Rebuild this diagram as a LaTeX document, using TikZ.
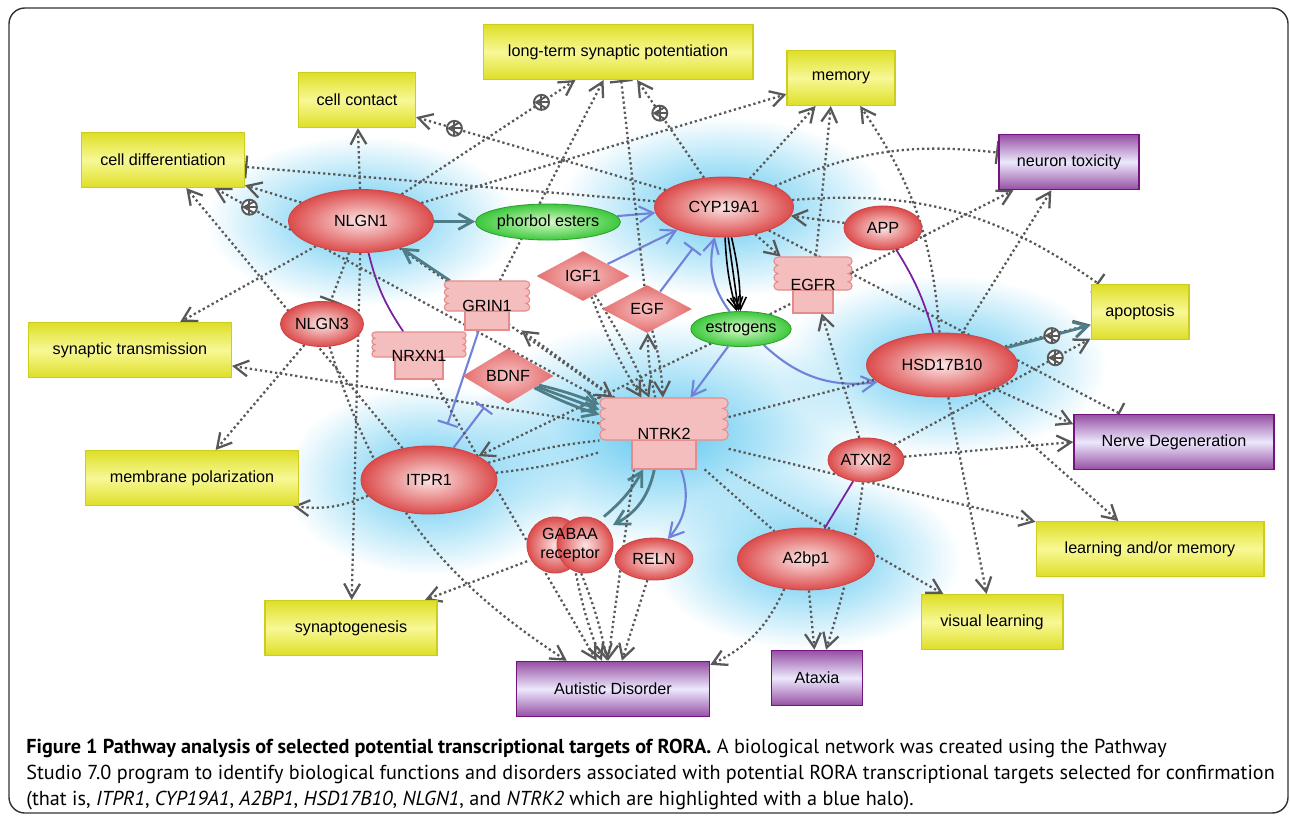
\documentclass[tikz,border=0pt]{standalone}
\usepackage{fontspec}
\setmainfont{PT Sans}
\newfontfamily\labelfont{Liberation Sans}
\usepackage{tikz}
\usetikzlibrary{arrows.meta,shapes.geometric,fadings,decorations.markings,calc}

\definecolor{edgegray}{RGB}{88,88,88}
\definecolor{tealc}{RGB}{78,125,136}
\definecolor{bluec}{RGB}{113,130,218}
\definecolor{purplec}{RGB}{123,31,162}
\definecolor{funcdark}{RGB}{222,222,40}
\definecolor{funclight}{RGB}{248,248,150}
\definecolor{funcdraw}{RGB}{205,205,30}
\definecolor{disdark}{RGB}{150,80,165}
\definecolor{dislight}{RGB}{236,232,252}
\definecolor{disdraw}{RGB}{115,20,125}
\definecolor{protout}{RGB}{220,75,75}
\definecolor{protin}{RGB}{252,228,228}
\definecolor{protdraw}{RGB}{205,70,70}
\definecolor{greenout}{RGB}{60,200,60}
\definecolor{greenin}{RGB}{215,250,200}
\definecolor{ligout}{RGB}{228,110,110}
\definecolor{ligin}{RGB}{248,195,195}
\definecolor{recfill}{RGB}{245,190,190}
\definecolor{recdraw}{RGB}{228,140,140}
\definecolor{halocol}{RGB}{95,200,240}

\newcommand\nodefont{\labelfont\fontsize{9.2}{10.5}\selectfont}

\pgfdeclarelayer{halolayer}
\pgfdeclarelayer{edgelayer}
\pgfsetlayers{halolayer,edgelayer,main}

\tikzfading[name=halofade, inner color=transparent!0, outer color=transparent!100]

\tikzset{
  func/.style={rectangle, draw=funcdraw, line width=0.6pt, top color=funcdark,
    bottom color=funcdark, middle color=funclight, minimum height=1.1cm, font=\nodefont},
  disease/.style={rectangle, draw=disdraw, line width=0.9pt, top color=disdark,
    bottom color=disdark, middle color=dislight, minimum height=1.1cm, font=\nodefont},
  protein/.style={ellipse, draw=protdraw, line width=0.5pt, inner sep=0pt,
    inner color=protin, outer color=protout, font=\nodefont},
  smallmol/.style={ellipse, draw=greenout!80!black, line width=0.5pt, inner sep=0pt,
    inner color=greenin, outer color=greenout, font=\nodefont},
  ligand/.style={diamond, inner sep=0pt, inner color=ligin, outer color=ligout, font=\nodefont},
  receptor/.style={fill=recfill, draw=recdraw, line width=0.6pt},
  halo/.style={fill=halocol, path fading=halofade},
  dots/.style={draw=edgegray, line width=1.3pt, dash pattern=on 1.3pt off 1.6pt},
  rel/.style={dots, -{Straight Barb[length=8pt,width=9pt]}},
  inhib/.style={dots, -{Bar[width=13pt]}},
  tealrel/.style={draw=tealc, line width=1.6pt, -{Straight Barb[length=8pt,width=9pt]}},
  bluerel/.style={draw=bluec, line width=1.2pt, -{Straight Barb[length=8pt,width=9pt]}},
  blueinh/.style={draw=bluec, line width=1.2pt, -{Bar[width=12pt]}},
  bind/.style={draw=purplec, line width=1pt},
  blackrel/.style={draw=black, line width=0.9pt, -{Straight Barb[length=7pt,width=7pt]}},
  oplus/.style={circle, solid, draw=edgegray, fill=white, line width=1.1pt, inner sep=0pt,
    minimum size=0.3cm, path picture={\draw[edgegray, line width=1.1pt]
      (path picture bounding box.north) -- (path picture bounding box.south)
      (path picture bounding box.east) -- (path picture bounding box.west);}},
  withplus/.style={postaction={decorate, decoration={markings,
      mark=at position -0.8cm with {\node[oplus] {};}}}},
  captext/.style={font=\fontsize{11.5}{13}\selectfont, inner sep=0pt, anchor=base west},
  outerframe/.style={draw=black!80, line width=0.8pt, rounded corners=9pt}
}

\begin{document}
\begin{tikzpicture}[x=0.02cm, y=0.02cm]

\newcommand\DrawReceptor[8]{% name, x, top y, head half width, stem half width, head height, stem height, label
  \pgfmathsetmacro\bump{#6/8}
  \draw[receptor] (#2-#5,-#3-#6) rectangle (#2+#5,-#3-#6-#7);
  \draw[receptor] (#2-#4,-#3)
    arc[start angle=90, end angle=270, radius=\bump*0.02cm]
    arc[start angle=90, end angle=270, radius=\bump*0.02cm]
    arc[start angle=90, end angle=270, radius=\bump*0.02cm]
    arc[start angle=90, end angle=270, radius=\bump*0.02cm]
    -- (#2+#4,-#3-#6)
    arc[start angle=-90, end angle=90, radius=\bump*0.02cm]
    arc[start angle=-90, end angle=90, radius=\bump*0.02cm]
    arc[start angle=-90, end angle=90, radius=\bump*0.02cm]
    arc[start angle=-90, end angle=90, radius=\bump*0.02cm]
    -- cycle;
  \node[font=\nodefont, inner sep=0pt, minimum width={(2*#4+2*\bump)*0.02cm},
    minimum height={(#6+#7)*0.02cm}] (#1) at (#2,-#3-#6/2-#7/2) {#8};
}

\useasboundingbox (0,0) rectangle (1290,-816);
\draw[outerframe] (9,-8) rectangle (1288,-813);

% functions (yellow) and diseases (purple)
\node[func, minimum width=5.4cm] (ltp) at (618,-52) {long-term synaptic potentiation};
\node[func, minimum width=2.16cm] (memory) at (841,-78) {memory};
\node[func, minimum width=2.34cm] (contact) at (357,-100) {cell contact};
\node[func, minimum width=3.26cm] (differ) at (163,-160) {cell differentiation};
\node[func, minimum width=4.06cm] (transm) at (130,-350) {synaptic transmission};
\node[func, minimum width=4.26cm] (polar) at (192,-478) {membrane polarization};
\node[func, minimum width=3.44cm] (synapto) at (351,-628) {synaptogenesis};
\node[func, minimum width=1.96cm] (apopt) at (1140,-312) {apoptosis};
\node[func, minimum width=4.56cm] (learnmem) at (1150,-549) {learning and/or memory};
\node[func, minimum width=2.84cm] (visual) at (992,-622) {visual learning};
\node[disease, minimum width=2.8cm] (neurotox) at (1069,-162) {neuron toxicity};
\node[disease, minimum width=4cm] (nervedeg) at (1174,-442) {Nerve Degeneration};
\node[disease, minimum width=3.86cm] (autism) at (613,-689) {Autistic Disorder};
\node[disease, minimum width=1.82cm] (ataxia) at (817,-678) {Ataxia};

% proteins and small molecules
\node[protein, minimum width=2.9cm, minimum height=1.26cm] (nlgn1) at (361,-221) {NLGN1};
\node[protein, minimum width=2.78cm, minimum height=1.2cm] (cyp) at (724,-207) {CYP19A1};
\node[protein, minimum width=3.02cm, minimum height=1.28cm] (hsd) at (942,-365) {HSD17B10};
\node[protein, minimum width=2.72cm, minimum height=1.36cm] (itpr1) at (429,-480) {ITPR1};
\node[protein, minimum width=2.74cm, minimum height=1.24cm] (a2bp1) at (806,-559) {A2bp1};
\node[protein, minimum width=1.66cm, minimum height=0.9cm] (nlgn3) at (322,-324) {NLGN3};
\node[protein, minimum width=1.56cm, minimum height=0.88cm] (app) at (883,-228) {APP};
\node[protein, minimum width=1.52cm, minimum height=0.88cm] (atxn2) at (866,-460) {ATXN2};
\node[protein, minimum width=1.56cm, minimum height=0.84cm] (reln) at (654,-559) {RELN};
\node[smallmol, minimum width=2.66cm, minimum height=0.72cm] (phorbol) at (548,-222) {phorbol esters};
\node[smallmol, minimum width=1.88cm, minimum height=0.7cm] (estro) at (741,-329) {estrogens};
\node[ligand, minimum width=1.86cm, minimum height=1cm] (igf1) at (583,-276) {IGF1};
\node[ligand, minimum width=1.8cm, minimum height=0.96cm] (egf) at (647,-309) {EGF};
\node[ligand, minimum width=1.82cm, minimum height=0.92cm] (bdnf) at (508,-376) {BDNF};
\node[protein, circle, minimum size=1.12cm] (gabaL) at (555,-545) {};
\node[protein, circle, minimum size=1.12cm] (gabaR) at (585,-545) {};
\node[font=\nodefont, align=center, inner sep=0pt, minimum width=1.7cm,
  minimum height=1.12cm] (gaba) at (570,-545) {GABAA\\receptor};

% receptors
\DrawReceptor{grin1}{487}{281}{39}{22}{30}{19}{GRIN1}
\DrawReceptor{nrxn1}{419}{332}{44}{24}{25}{22}{NRXN1}
\DrawReceptor{egfr}{813}{257}{35}{20}{33}{23}{EGFR}
\DrawReceptor{ntrk2}{664}{398}{59}{32}{42}{29}{NTRK2}

% blue halos of the selected targets
\begin{pgfonlayer}{halolayer}
\fill[halo] (nlgn1.center) ellipse [x radius=3.1cm, y radius=1.7cm];
\fill[halo] (cyp.center) ellipse [x radius=3.3cm, y radius=1.8cm];
\fill[halo] (hsd.center) ellipse [x radius=3.3cm, y radius=1.8cm];
\fill[halo] (ntrk2.center) ellipse [x radius=4cm, y radius=2.3cm];
\fill[halo] (itpr1.center) ellipse [x radius=2.9cm, y radius=1.9cm];
\fill[halo] (a2bp1.center) ellipse [x radius=3.1cm, y radius=1.8cm];
\end{pgfonlayer}

\begin{pgfonlayer}{edgelayer}
% NLGN1
\draw[rel] (nlgn1) -- (contact);
\draw[rel] (nlgn1) -- (differ);
\draw[rel] (nlgn1) -- (transm);
\draw[rel] (nlgn1) -- (synapto);
\draw[rel, withplus] (nlgn1) -- (ltp);
\draw[rel] (nlgn1) -- (memory);
\draw[rel] (nlgn1) -- (ntrk2);
\draw[inhib] (nlgn1) -- (nlgn3);
\draw[bind] (nlgn1) to[bend right=10] (nrxn1);
\draw[tealrel] (grin1) -- (nlgn1);
\draw[tealrel] (nlgn1) -- (phorbol);
% CYP19A1 and estrogens
\draw[bluerel] (phorbol) -- (cyp);
\draw[bluerel] (igf1) -- (cyp);
\draw[blueinh, shorten >=0.3cm] (egf) -- (cyp);
\draw[bluerel] (estro) to[bend left=25] (cyp);
\draw[blackrel] (cyp) to[bend right=6] (estro);
\draw[blackrel] (cyp) -- (estro);
\draw[blackrel] (cyp) to[bend left=6] (estro);
\draw[bluerel] (estro) to[bend right=25] (hsd);
\draw[bluerel] (estro) -- (ntrk2);
\draw[rel, withplus] (cyp) -- (ltp);
\draw[rel, withplus] (cyp) -- (contact);
\draw[inhib] (cyp) -- (differ);
\draw[rel] (cyp) -- (memory);
\draw[inhib] (cyp) to[bend left=15] (neurotox);
\draw[inhib] (cyp) to[bend left=20] (apopt);
\draw[inhib] (cyp) -- (nervedeg);
\draw[rel] (cyp) -- (egfr);
\draw[rel] (app) -- (cyp);
\draw[rel] (estro) -- (neurotox);
\draw[rel] (estro) -- (itpr1);
% NTRK2
\draw[tealrel] (bdnf) to[bend left=4] (ntrk2);
\draw[tealrel] (bdnf) -- (ntrk2);
\draw[tealrel] (bdnf) to[bend right=4] (ntrk2);
\draw[tealrel] (gaba) to[bend right=10] (ntrk2);
\draw[tealrel] (ntrk2) to[bend left=25] (gaba);
\draw[bluerel] (ntrk2) to[bend left=30] (reln);
\draw[rel] (igf1) to[bend right=5] (ntrk2);
\draw[rel] (igf1) to[bend left=5] (ntrk2);
\draw[rel] (ntrk2) to[bend left=6] (egf);
\draw[rel] (egf) to[bend left=6] (ntrk2);
\draw[rel] (ntrk2) -- (grin1);
\draw[dots] (itpr1) to[bend left=5] (ntrk2);
\draw[dots] (itpr1) to[bend right=5] (ntrk2);
\draw[rel, withplus] (ntrk2) -- (differ);
\draw[rel] (ntrk2) -- (transm);
\draw[rel] (ntrk2) -- (apopt);
\draw[rel] (ntrk2) -- (learnmem);
\draw[rel] (ntrk2) -- (visual);
\draw[dots] (ntrk2) -- (a2bp1);
\draw[rel] ([xshift=-0.6cm]ntrk2.south) -- ([xshift=-0.1cm]autism.north);
% ITPR1, GRIN1, NLGN3, GABAA
\draw[blueinh, shorten >=0.45cm] (grin1) -- (itpr1);
\draw[blueinh, shorten >=0.3cm] (itpr1) -- (bdnf);
\draw[rel] (itpr1) -- (differ);
\draw[rel] (itpr1) to[bend left=15] (polar);
\draw[rel] (nlgn3) -- (polar);
\draw[rel] (grin1) -- (ltp);
\draw[inhib] (egf) -- (ltp);
\draw[rel] (egfr) -- (memory.250);
\draw[rel] (gaba) -- (synapto);
\draw[rel] (gaba) to[bend right=5] (autism);
\draw[rel] (gaba) to[bend left=5] (autism);
\draw[rel] (reln) -- (autism);
\draw[rel] (nrxn1) -- (autism);
\draw[rel] (nlgn3) to[bend right=20] (autism);
% HSD17B10, ATXN2, A2bp1
\draw[rel] (hsd) to[bend right=15] (memory);
\draw[bind] (app) to[bend left=8] (hsd);
\draw[tealrel, withplus] (hsd) -- (apopt);
\draw[rel, withplus] (atxn2) -- (apopt);
\draw[rel] (hsd) -- (nervedeg.170);
\draw[rel] (atxn2) -- (nervedeg.west);
\draw[rel] (hsd) -- (neurotox);
\draw[rel] (hsd) -- (learnmem);
\draw[rel] (hsd) -- (visual);
\draw[rel] (atxn2) -- (egfr);
\draw[rel] (atxn2) to[bend left=5] (ataxia);
\draw[rel] (a2bp1) -- (ataxia);
\draw[rel] (a2bp1) to[bend left=20] (autism);
\draw[bind] (a2bp1) -- (atxn2);
\end{pgfonlayer}

% caption
\node[captext] (cap1) at (26,-753) {\textbf{Figure 1 Pathway analysis of selected potential transcriptional targets of RORA.} A biological network was created using the Pathway};
\node[captext] (cap2) at (26,-779) {Studio 7.0 program to identify biological functions and disorders associated with potential RORA transcriptional targets selected for confirmation};
\node[captext] (cap3) at (26,-805) {(that is, \textit{ITPR1}, \textit{CYP19A1}, \textit{A2BP1}, \textit{HSD17B10}, \textit{NLGN1}, and \textit{NTRK2} which are highlighted with a blue halo).};
\end{tikzpicture}
\end{document}
